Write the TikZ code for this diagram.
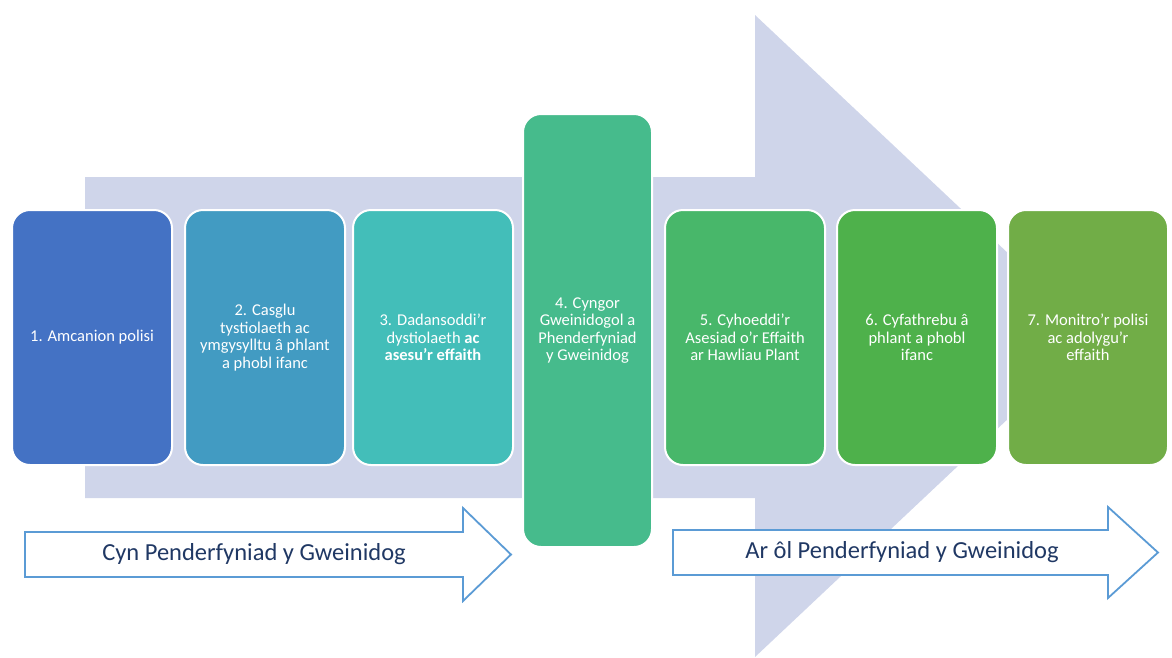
\documentclass[tikz,border=0pt]{standalone}
\usepackage{fontspec}
\setmainfont{Carlito}
\usetikzlibrary{positioning}
\definecolor{BandLilac}{RGB}{207,213,234}
\definecolor{StepOne}{RGB}{68,114,196}
\definecolor{StepTwo}{RGB}{66,155,194}
\definecolor{StepThree}{RGB}{67,190,185}
\definecolor{StepFour}{RGB}{70,187,140}
\definecolor{StepFive}{RGB}{72,183,106}
\definecolor{StepSix}{RGB}{78,177,75}
\definecolor{StepSeven}{RGB}{113,173,71}
\definecolor{PhaseLine}{RGB}{91,155,213}
\definecolor{PhaseText}{RGB}{32,56,100}
\tikzset{
  stepbox/.style={draw=white,line width=2pt,rounded corners=18pt,
    minimum width=160pt,minimum height=255pt,align=center,text=white,
    font=\fontsize{16.5}{17.5}\selectfont},
  bigstepbox/.style={stepbox,minimum width=129pt,minimum height=433pt},
  phasearrow/.style={draw=PhaseLine,line width=1.8pt,fill=white,line join=miter},
  phaselabel/.style={text=PhaseText,font=\fontsize{24.5}{28}\selectfont}
}
\begin{document}
\begin{tikzpicture}[x=1pt,y=-1pt]
  \useasboundingbox (0,0) rectangle (1172,657);
  % background arrow
  \fill[BandLilac] (85,177) -- (755,177) -- (755,15) -- (1096,336)
    -- (755,657) -- (755,498) -- (85,498) -- cycle;
  % steps
  \node[stepbox,fill=StepOne] (aims) at (92,337.5) {1. Amcanion polisi};
  \node[stepbox,fill=StepTwo,right=11pt of aims] (evidence)
    {2. Casglu\\tystiolaeth ac\\ymgysylltu â phlant\\a phobl ifanc};
  \node[stepbox,fill=StepThree,right=6pt of evidence] (analyse)
    {3. Dadansoddi'r\\dystiolaeth \textbf{ac}\\\textbf{asesu'r effaith}};
  \node[bigstepbox,fill=StepFour,right=8pt of analyse,yshift=7pt] (decision)
    {4. Cyngor\\Gweinidogol a\\Phenderfyniad\\y Gweinidog};
  \node[stepbox,fill=StepFive,right=11pt of decision,yshift=-7pt] (publish)
    {5. Cyhoeddi'r\\Asesiad o'r Effaith\\ar Hawliau Plant};
  \node[stepbox,fill=StepSix,right=10pt of publish] (communicate)
    {6. Cyfathrebu â\\phlant a phobl\\ifanc};
  \node[stepbox,fill=StepSeven,right=9pt of communicate] (monitor)
    {7. Monitro'r polisi\\ac adolygu'r\\effaith};
  % phases
  \draw[phasearrow] (25,532) -- (463,532) -- (463,508) -- (511,554.5)
    -- (463,601) -- (463,577) -- (25,577) -- cycle;
  \node[phaselabel] (before) at (254,554.5) {Cyn Penderfyniad y Gweinidog};
  \draw[phasearrow] (673,530) -- (1108,530) -- (1108,507) -- (1158,552.5)
    -- (1108,598) -- (1108,575) -- (673,575) -- cycle;
  \node[phaselabel] (after) at (902,552.5) {Ar ôl Penderfyniad y Gweinidog};
\end{tikzpicture}
\end{document}
